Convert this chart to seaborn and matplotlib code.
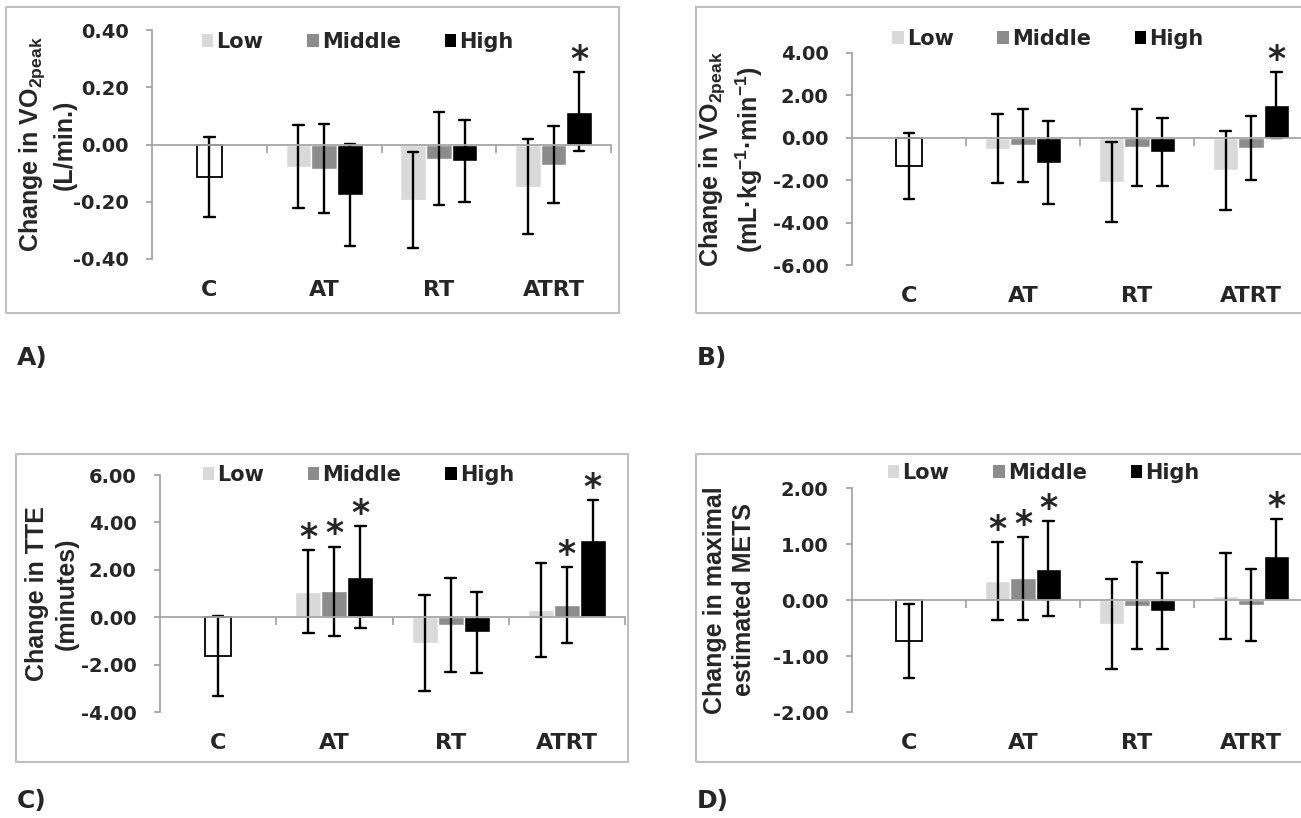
import numpy as np
import pandas as pd
import seaborn as sns
import matplotlib.pyplot as plt
from matplotlib.patches import Patch, Rectangle
from matplotlib.ticker import FormatStrFormatter

# categories / groups
groups = ['C', 'AT', 'RT', 'ATRT']
levels = ['Low', 'Middle', 'High']
colors = ['#d9d9d9', '#8c8c8c', '#000000']

# A) change in VO2peak (L/min.)  rows = Low, Middle, High ; cols = AT, RT, ATRT
a_ctrl = [-0.114, 0.140]
a_mean = [[-0.077, -0.194, -0.148],
          [-0.084, -0.049, -0.070],
          [-0.176, -0.058, 0.115]]
a_sd = [[0.146, 0.167, 0.166],
        [0.156, 0.162, 0.135],
        [0.177, 0.144, 0.139]]
a_stars = [('ATRT', 'High')]

# B) change in VO2peak (mL/kg/min)
b_ctrl = [-1.33, 1.55]
b_mean = [[-0.52, -2.08, -1.54],
          [-0.36, -0.44, -0.50],
          [-1.17, -0.66, 1.54]]
b_sd = [[1.62, 1.89, 1.85],
        [1.74, 1.82, 1.51],
        [1.97, 1.60, 1.57]]
b_stars = [('ATRT', 'High')]

# C) change in TTE (minutes)
c_ctrl = [-1.65, 1.68]
c_mean = [[1.08, -1.10, 0.31],
          [1.10, -0.33, 0.53],
          [1.69, -0.64, 3.26]]
c_sd = [[1.76, 2.03, 1.97],
        [1.88, 1.98, 1.60],
        [2.15, 1.72, 1.69]]
c_stars = [('AT', 'Low'), ('AT', 'Middle'), ('AT', 'High'), ('ATRT', 'Middle'), ('ATRT', 'High')]

# D) change in maximal estimated METS
d_ctrl = [-0.735, 0.665]
d_mean = [[0.335, -0.43, 0.07],
          [0.385, -0.10, -0.095],
          [0.56, -0.19, 0.78]]
d_sd = [[0.695, 0.81, 0.77],
        [0.745, 0.78, 0.645],
        [0.85, 0.68, 0.67]]
d_stars = [('AT', 'Low'), ('AT', 'Middle'), ('AT', 'High'), ('ATRT', 'High')]

sns.set_style('white')
plt.rcParams['font.family'] = ['DejaVu Sans']
plt.rcParams['font.weight'] = 'bold'
plt.rcParams['mathtext.default'] = 'regular'

W, H = 1301, 818
fig = plt.figure(figsize=(W / 100, H / 100), dpi=100)
gray = '#a6a6a6'
group_w = 0.67
bar_w = group_w / 3


def px_rect(l, t, r, b):
    return [l / W, 1 - b / H, (r - l) / W, (b - t) / H]


def spread(m, s):
    # two rows per bar so that the min/max interval is mean -/+ sd
    return [m - s, m + s]


def draw_panel(rect, ctrl, means, sds, stars, ylim, step, ylabel, label_x, leg_xy):
    ax = fig.add_axes(rect)
    rows = []
    for i, lvl in enumerate(levels):
        for j, g in enumerate(groups[1:]):
            for v in spread(means[i][j], sds[i][j]):
                rows.append({'group': g, 'level': lvl, 'value': v})
    df = pd.DataFrame(rows)
    ctrl_df = pd.DataFrame({'group': 'C', 'value': spread(ctrl[0], ctrl[1])})

    err = dict(color='black', linewidth=1.7)
    rng = lambda v: (v.min(), v.max())
    sns.barplot(data=ctrl_df, x='group', y='value', order=groups, color='white',
                edgecolor='black', linewidth=1.3, width=bar_w, saturation=1,
                errorbar=rng, capsize=0.09, err_kws=err, ax=ax)
    sns.barplot(data=df, x='group', y='value', hue='level', order=groups,
                hue_order=levels, palette=colors, width=group_w, saturation=1,
                errorbar=rng, capsize=0.27, err_kws=err, legend=False, ax=ax)

    ax.set_xlim(-0.5, 3.5)
    ax.set_ylim(*ylim)
    ax.set_yticks(np.arange(ylim[0], ylim[1] + step / 2, step))
    ax.yaxis.set_major_formatter(FormatStrFormatter('%.2f'))
    ax.set_xlabel('')
    ax.set_xticks([0.5, 1.5, 2.5, 3.5])
    ax.set_xticklabels([])
    for s in ['top', 'right']:
        ax.spines[s].set_visible(False)
    ax.spines['bottom'].set_position(('data', 0))
    ax.spines['bottom'].set_color(gray)
    ax.spines['left'].set_color(gray)
    ax.spines['bottom'].set_linewidth(1.3)
    ax.spines['left'].set_linewidth(1.3)
    ax.tick_params(axis='x', direction='out', length=6, width=1.3, color=gray, bottom=True)
    ax.tick_params(axis='y', direction='out', length=4, width=1.3, color=gray, left=True,
                   pad=13, labelsize=14)
    ax.patch.set_alpha(0)

    sec = ax.secondary_xaxis('bottom')
    sec.set_xticks(range(len(groups)), labels=groups)
    sec.tick_params(length=0, pad=15, labelsize=16)
    sec.spines['bottom'].set_visible(False)

    ax.set_ylabel(ylabel, fontsize=18, family='Liberation Sans', fontweight='bold',
                  linespacing=1.3)
    ax.yaxis.set_label_coords(label_x, 0.5)

    handles = [Patch(facecolor=c, edgecolor='none') for c in colors]
    ax.legend(handles, levels, ncol=3, loc='center left', bbox_to_anchor=leg_xy,
              frameon=False, borderpad=0, borderaxespad=0, handlelength=0.55,
              handleheight=0.55, handletextpad=0.15, columnspacing=2.1,
              prop={'size': 15, 'weight': 'bold'})

    for g, lvl in stars:
        j = groups.index(g)
        i = levels.index(lvl)
        x = j + (i - 1) * bar_w
        y = means[i][j - 1] + sds[i][j - 1]
        ax.annotate('*', (x, y), xytext=(0, 1.5), textcoords='offset points',
                    ha='center', va='baseline', fontsize=25, annotation_clip=False)
    return ax


draw_panel(px_rect(152, 30, 611, 259), a_ctrl, a_mean, a_sd, a_stars, (-0.4, 0.4), 0.2,
           'Change in VO$_{2peak}$\n(L/min.)', -0.165, (0.109, 0.948))
draw_panel(px_rect(852, 53, 1308, 265), b_ctrl, b_mean, b_sd, b_stars, (-6, 4), 2,
           'Change in VO$_{2peak}$\n(mL·kg$^{-1}$·min$^{-1}$)', -0.19, (0.088, 1.066))
draw_panel(px_rect(160, 475, 625, 712), c_ctrl, c_mean, c_sd, c_stars, (-4, 6), 2,
           'Change in TTE\n(minutes)', -0.175, (0.092, 1.0))
draw_panel(px_rect(852, 488, 1308, 712), d_ctrl, d_mean, d_sd, d_stars, (-2, 2), 1,
           'Change in maximal\nestimated METS', -0.21, (0.079, 1.067))

# panel frames
for l, t, r, b in [(6, 7, 619, 313), (696, 7, 1320, 313), (16, 454, 628, 762), (696, 454, 1320, 762)]:
    fig.add_artist(Rectangle((l / W, 1 - b / H), (r - l) / W, (b - t) / H,
                             transform=fig.transFigure, fill=False,
                             edgecolor='#bfbfbf', linewidth=1.5))

for txt, x, y in [('A)', 17, 358), ('B)', 697, 358), ('C)', 17, 801), ('D)', 697, 801)]:
    fig.text(x / W, 1 - y / H, txt, fontsize=18, fontweight='heavy', ha='left', va='center')

fig.savefig('out.png', dpi=100)
